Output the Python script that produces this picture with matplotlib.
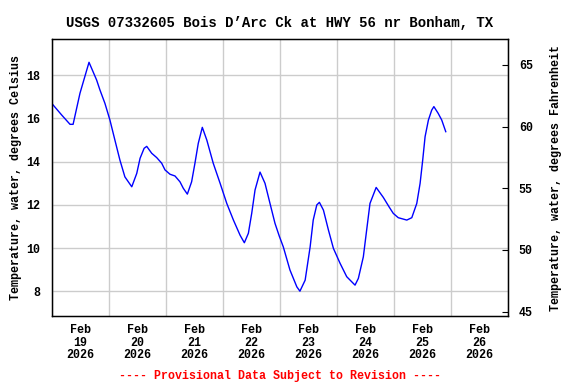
import numpy as np
import matplotlib
matplotlib.use('Agg')
import matplotlib.pyplot as plt
import matplotlib.dates as mdates
import datetime as dt

# hours since Feb 19 2026 00:00, water temperature (deg C)
hours = [0, 4.2, 7.7, 9.0, 11.9, 15.7, 18.9, 20.3, 22.4, 24.5, 26.6, 28.7, 30.8,
         33.7, 35.8, 37.2, 38.9, 40.0, 42.1, 44.2, 46.3, 47.7, 49.8, 51.9, 54.0,
         55.4, 57.1, 58.9, 60.3, 61.7, 63.4, 65.3, 68.0, 70.9, 73.7, 76.5, 79.3,
         81.1, 82.8, 84.2, 85.6, 87.7, 89.8, 91.9, 94.0, 95.8, 97.5, 100.3, 103.2,
         104.5, 106.7, 108.8, 110.1, 111.6, 112.7, 114.4, 116.5, 118.6, 121.4,
         124.2, 127.7, 129.1, 131.2, 132.6, 134.0, 136.6, 139.6, 142.1, 143.8,
         145.9, 149.5, 151.6, 153.7, 155.1, 156.2, 157.2, 158.6, 160.0, 160.9,
         162.7, 164.2, 165.9]
temps = [16.7, 16.16, 15.73, 15.73, 17.17, 18.6, 17.78, 17.32, 16.7, 15.93, 15.0,
         14.08, 13.3, 12.84, 13.46, 14.16, 14.62, 14.71, 14.39, 14.19, 13.93, 13.62,
         13.42, 13.34, 13.07, 12.77, 12.5, 13.07, 13.93, 14.85, 15.59, 15.0, 13.93,
         13.0, 12.07, 11.3, 10.6, 10.25, 10.69, 11.61, 12.69, 13.52, 13.0, 12.07,
         11.15, 10.56, 10.06, 8.99, 8.21, 8.01, 8.52, 10.06, 11.3, 12.0, 12.12,
         11.76, 10.84, 9.99, 9.3, 8.68, 8.29, 8.6, 9.6, 10.84, 12.07, 12.81, 12.35,
         11.9, 11.61, 11.41, 11.3, 11.41, 12.07, 13.0, 14.08, 15.16, 15.93, 16.39,
         16.55, 16.24, 15.93, 15.39]

c_ticks = [8, 10, 12, 14, 16, 18]
f_ticks = [45, 50, 55, 60, 65]

start = dt.datetime(2026, 2, 19)
times = [start + dt.timedelta(hours=h) for h in hours]

plt.rcParams['font.family'] = ['Liberation Mono', 'DejaVu Sans Mono']
plt.rcParams['font.weight'] = 'bold'
plt.rcParams['font.size'] = 8.4

fig = plt.figure(figsize=(5.76, 3.84), dpi=100)
ax = fig.add_axes([0.0898, 0.177, 0.7917, 0.721])
ax.plot(times, temps, color='#0000ff', lw=1.0)

ax.set_xlim(start, start + dt.timedelta(days=8))
ax.set_ylim(6.86, 19.67)
ax.set_yticks(c_ticks)
ax.xaxis.set_major_locator(mdates.DayLocator())
ax.xaxis.set_major_formatter(matplotlib.ticker.NullFormatter())
ax.xaxis.set_minor_locator(mdates.HourLocator(byhour=[12]))
ax.xaxis.set_minor_formatter(mdates.DateFormatter('%b\n%d\n%Y'))
ax.tick_params(axis='x', which='both', length=0, pad=6)
ax.tick_params(axis='y', length=0, pad=8)
for lab in ax.xaxis.get_minorticklabels():
    lab.set_linespacing(1.02)
    lab.set_fontweight('bold')
ax.grid(True, which='major', color='#cccccc', lw=1.0)
ax.set_axisbelow(True)
for s in ax.spines.values():
    s.set_linewidth(1.0)

ax.set_ylabel('Temperature, water, degrees Celsius', labelpad=3, fontweight='bold')

ax2 = ax.twinx()
ax2.set_ylim(44.65, 67.08)
ax2.set_yticks(f_ticks)
ax2.tick_params(axis='y', direction='in', length=4, pad=8)
ax2.set_ylabel('Temperature, water, degrees Fahrenheit', labelpad=12, fontweight='bold')

ax.set_title("USGS 07332605 Bois D\u2019Arc Ck at HWY 56 nr Bonham, TX", pad=9,
             fontweight='bold')
fig.text(0.4856, 0.004, '---- Provisional Data Subject to Revision ----',
         color='red', ha='center', va='bottom', fontweight='bold')

fig.savefig('out.png', dpi=100)
